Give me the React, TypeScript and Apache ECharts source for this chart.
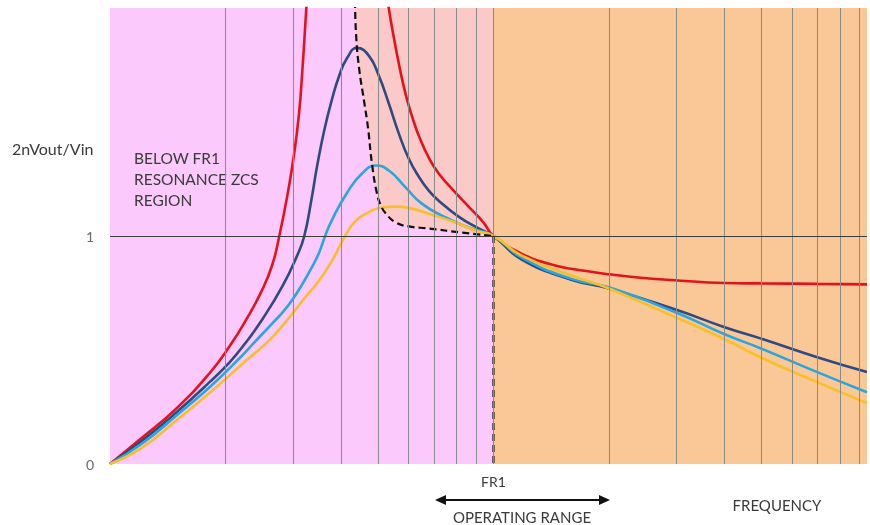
import React, { useEffect, useRef } from "react";
import * as echarts from "echarts";

// Frequency axis (log) — FR1 is the series resonant frequency
const FR1 = 10;
const X_MIN = 1;
const X_MAX = 94.2;
const gridFreqs = [2, 3, 4, 5, 6, 7, 8, 9, 10, 20, 30, 40, 50, 60, 70, 80, 90];
const yTicks = [0, 1];

// Gain curves [frequency, 2nVout/Vin]
const redLow = [
  [1, 0], [1.218, 0.118], [1.493, 0.245], [1.818, 0.398], [2.05, 0.516], [2.269, 0.635],
  [2.497, 0.766], [2.651, 0.875], [2.764, 1.0], [2.9, 1.177], [3.024, 1.365], [3.116, 1.549],
  [3.171, 1.716], [3.229, 1.921], [3.268, 2.074], [3.29, 2.2],
];
const redHigh = [
  [5.24, 2.1], [5.337, 1.996], [5.499, 1.869], [5.666, 1.755], [5.837, 1.654], [6.015, 1.571],
  [6.197, 1.501], [6.387, 1.44], [6.78, 1.344], [7.197, 1.274], [7.87, 1.199], [8.612, 1.129],
  [9.419, 1.059], [10, 1.0], [11.82, 0.923], [14.49, 0.871], [17.65, 0.845], [20, 0.832],
  [23.81, 0.818], [30.24, 0.805], [40.06, 0.794], [49.67, 0.792], [69.87, 0.79], [94.2, 0.788],
];
const navy = [
  [1, 0], [1.218, 0.105], [1.493, 0.228], [1.818, 0.359], [2.05, 0.446], [2.242, 0.525],
  [2.497, 0.635], [2.814, 0.779], [3.078, 0.915], [3.211, 1.0], [3.348, 1.155], [3.47, 1.309],
  [3.618, 1.462], [3.796, 1.602], [3.958, 1.702], [4.152, 1.781], [4.408, 1.825], [4.735, 1.79],
  [5.027, 1.702], [5.337, 1.58], [5.666, 1.449], [6.015, 1.339], [6.387, 1.26], [6.78, 1.199],
  [7.197, 1.155], [8.111, 1.085], [9.143, 1.033], [10, 1.0], [11.82, 0.898], [15.95, 0.808],
  [20, 0.77], [30.24, 0.674], [40.06, 0.6], [49.67, 0.551], [69.87, 0.468], [94.2, 0.403],
];
const lightBlue = [
  [1, 0], [1.218, 0.092], [1.493, 0.214], [1.818, 0.337], [2.15, 0.455], [2.394, 0.538],
  [2.651, 0.617], [2.848, 0.674], [3.005, 0.726], [3.171, 0.788], [3.348, 0.858], [3.512, 0.928],
  [3.639, 1.0], [3.796, 1.072], [4.152, 1.19], [4.541, 1.274], [4.938, 1.309], [5.337, 1.287],
  [5.907, 1.212], [6.503, 1.142], [7.505, 1.081], [8.612, 1.037], [10, 1.0], [11.82, 0.906],
  [15.95, 0.812], [20, 0.775], [30.24, 0.661], [40.06, 0.569], [49.67, 0.508], [69.87, 0.403],
  [94.2, 0.315],
];
const yellow = [
  [1, 0], [1.218, 0.074], [1.493, 0.193], [1.818, 0.311], [2.269, 0.455], [2.604, 0.543],
  [2.935, 0.643], [3.211, 0.726], [3.512, 0.805], [3.796, 0.893], [3.958, 0.95], [4.102, 1.0],
  [4.328, 1.059], [4.651, 1.098], [5.118, 1.125], [5.598, 1.129], [6.124, 1.12], [6.78, 1.098],
  [7.966, 1.059], [8.98, 1.024], [10, 1.0], [11.82, 0.915], [15.95, 0.827], [20, 0.77],
  [30.24, 0.639], [40.06, 0.547], [49.67, 0.468], [69.87, 0.359], [94.2, 0.267],
];
// ZCS / ZVS boundary (dashed)
const boundary = [
  [4.355, 2.03], [4.381, 1.886], [4.461, 1.737], [4.596, 1.593], [4.707, 1.475], [4.821, 1.317],
  [4.968, 1.186], [5.088, 1.133], [5.242, 1.098], [5.566, 1.059], [6.015, 1.042], [6.78, 1.033],
  [8.259, 1.015], [10, 1.0],
];
const fr1Drop = [[FR1, 1], [FR1, 0]];

const FONT = "Lato, 'Open Sans', sans-serif";
const TEXT = "#3a3a3a";
const MAGENTA = "#FBC9FB";
const SALMON = "#FAC9C8";
const ORANGE = "#FAC897";
const SMOOTH = 0.5;

export default function App() {
  const ref = useRef<HTMLDivElement>(null);
  useEffect(() => {
    if (!ref.current) return;
    const chart = echarts.init(ref.current, null, { renderer: "svg" });
    const curve = (name: string, data: number[][], color: string) => ({
      name,
      type: "line",
      data,
      smooth: SMOOTH,
      showSymbol: false,
      z: 3,
      clip: true,
      lineStyle: { color, width: 2.6 },
    });
    const option: any = {
      animation: false,
      textStyle: { fontFamily: FONT },
      grid: { left: 110, right: 0, top: 8, bottom: 61, show: true, backgroundColor: MAGENTA, borderWidth: 0 },
      xAxis: {
        type: "log",
        logBase: 10,
        min: X_MIN,
        max: X_MAX,
        axisLine: { show: false },
        axisTick: { show: false },
        splitLine: { show: false },
        axisLabel: {
          formatter: (v: number) => (Math.abs(v - FR1) < 0.01 ? "FR1" : ""),
          color: TEXT,
          fontSize: 14,
          margin: 10,
          fontFamily: FONT,
        },
      },
      yAxis: {
        type: "value",
        min: 0,
        max: 2,
        interval: 1,
        axisLine: { show: false },
        axisTick: { show: false },
        splitLine: { show: false },
        axisLabel: {
          formatter: (v: number) => (yTicks.includes(v) ? String(v) : ""),
          color: "#6a6a6a",
          fontSize: 14,
          margin: 16,
          fontFamily: FONT,
        },
      },
      series: [
        {
          name: "zvsArea",
          type: "line",
          data: boundary,
          smooth: SMOOTH,
          showSymbol: false,
          z: 1,
          lineStyle: { width: 0, opacity: 0 },
          areaStyle: { color: SALMON, opacity: 1, origin: "end" },
          markArea: {
            silent: true,
            itemStyle: { color: ORANGE },
            data: [[{ xAxis: FR1, yAxis: 0 }, { xAxis: X_MAX, yAxis: 2 }]],
          },
        },
        {
          name: "gridlines",
          type: "line",
          data: [],
          z: 2,
          markLine: {
            silent: true,
            symbol: "none",
            label: { show: false },
            lineStyle: { color: "#8a8a8a", width: 1, type: "solid" },
            data: [
              ...gridFreqs.map((f) => ({ xAxis: f })),
              { yAxis: 1, lineStyle: { color: "#3c3c3c", width: 1, type: "solid" } },
            ],
          },
        },
        curve("red", redLow, "#E3121C"),
        curve("red2", redHigh, "#E3121C"),
        curve("navy", navy, "#2F4A80"),
        curve("lightBlue", lightBlue, "#2BA6DD"),
        curve("yellow", yellow, "#F8BF2A"),
        {
          name: "boundary",
          type: "line",
          data: boundary,
          smooth: SMOOTH,
          showSymbol: false,
          z: 4,
          lineStyle: { color: "#111", width: 2.2, type: [7, 4] },
        },
        {
          name: "fr1",
          type: "line",
          data: fr1Drop,
          showSymbol: false,
          z: 4,
          lineStyle: { color: "#111", width: 2.2, type: [7, 4] },
        },
      ],
      graphic: [
        { type: "text", style: { text: "2nVout/Vin", x: 12, y: 148, textVerticalAlign: "middle", font: `16px ${FONT}`, fill: TEXT } },
        {
          type: "text",
          style: { text: "BELOW FR1\nRESONANCE ZCS\nREGION", x: 134, y: 147, lineHeight: 21, textVerticalAlign: "top", font: `15.5px ${FONT}`, fill: TEXT },
        },
        {
          type: "text",
          style: { text: "BELOW FR1 RESONANCE\nZVS REGION", x: 535, y: 37, lineHeight: 22, textVerticalAlign: "top", font: `15.5px ${FONT}`, fill: TEXT },
        },
        {
          type: "text",
          style: { text: "ABOVE FR1 RESONANCE\nZVS REGION", x: 585, y: 171, lineHeight: 21, textVerticalAlign: "top", font: `15.5px ${FONT}`, fill: TEXT },
        },
        { type: "text", style: { text: "FREQUENCY", x: 777, y: 505, textAlign: "center", textVerticalAlign: "middle", font: `15px ${FONT}`, fill: TEXT } },
        { type: "text", style: { text: "OPERATING RANGE", x: 522, y: 517, textAlign: "center", textVerticalAlign: "middle", font: `15px ${FONT}`, fill: TEXT } },
        { type: "line", shape: { x1: 525, y1: 58, x2: 451, y2: 104 }, style: { stroke: "#111", lineWidth: 1.6 } },
        { type: "polygon", shape: { points: [[445, 108], [455.6, 106.1], [451.4, 99.3]] }, style: { fill: "#111" } },
        { type: "line", shape: { x1: 442, y1: 500, x2: 603, y2: 500 }, style: { stroke: "#111", lineWidth: 2.2 } },
        { type: "polygon", shape: { points: [[435, 500], [446, 495], [446, 505]] }, style: { fill: "#111" } },
        { type: "polygon", shape: { points: [[610, 500], [599, 495], [599, 505]] }, style: { fill: "#111" } },
      ],
    };
    chart.setOption(option);
    return () => chart.dispose();
  }, []);
  return <div ref={ref} style={{ position: "fixed", left: 0, top: 0, width: 870, height: 525 }} />;
}
